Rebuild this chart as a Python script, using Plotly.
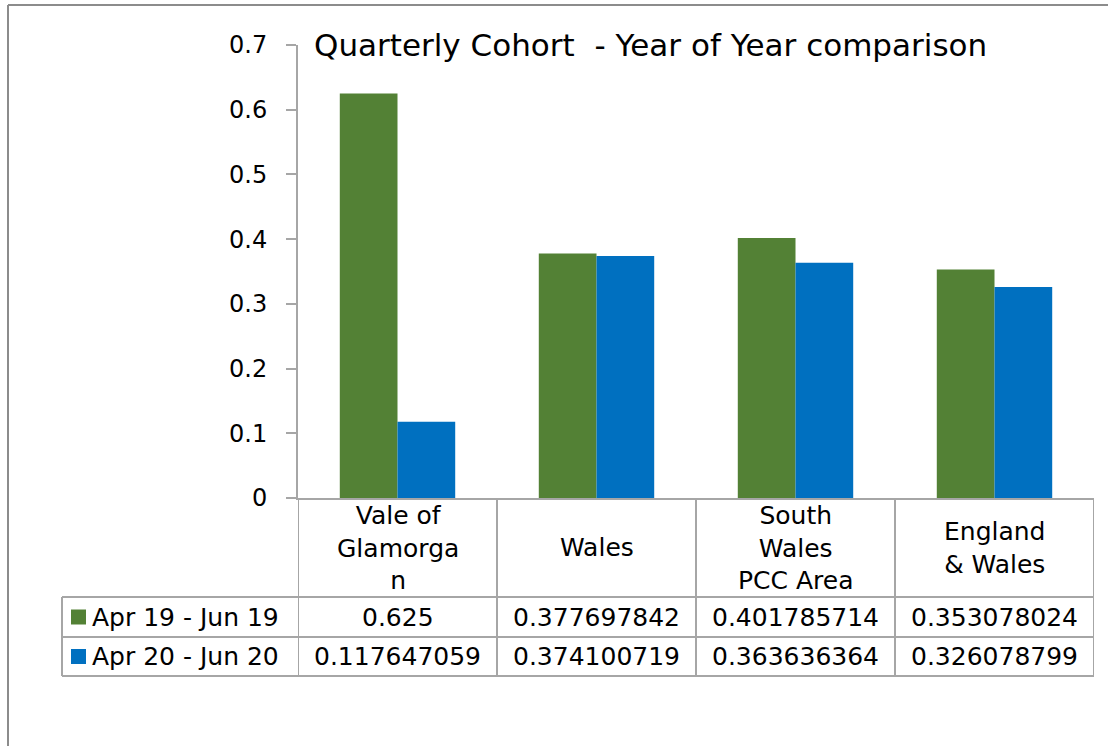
import plotly.graph_objects as go

# ---- data ----
categories = ["Vale of Glamorgan", "Wales", "South Wales PCC Area", "England & Wales"]
category_labels = ["Vale of<br>Glamorga<br>n", "Wales", "South<br>Wales<br>PCC Area", "England<br>& Wales"]
series_names = ["Apr 19 - Jun 19", "Apr 20 - Jun 20"]
apr19_jun19 = [0.625, 0.377697842, 0.401785714, 0.353078024]
apr20_jun20 = [0.117647059, 0.374100719, 0.363636364, 0.326078799]
y_ticks = [0, 0.1, 0.2, 0.3, 0.4, 0.5, 0.6, 0.7]
y_tick_labels = ["0", "0.1", "0.2", "0.3", "0.4", "0.5", "0.6", "0.7"]
title_text = "Quarterly Cohort  - Year of Year comparison"

# ---- styling ----
W, H = 1108, 746
FONT = "DejaVu Sans"
GREEN = "#538135"
BLUE = "#0070C0"
GRID = "#A6A6A6"
BORDER = "#8C8C8C"
TABLE_SIZE = 25

# pixel geometry of plot area and data table
PX_LEFT, PX_RIGHT = 298, 1094
PX_TOP, PX_ZERO = 45, 498
ROW_HEAD_BOTTOM, ROW1_BOTTOM, ROW2_BOTTOM = 597, 637, 676
LEGEND_LEFT = 62


def px(x):
    return x / W


def py(y):
    return 1 - y / H


fig = go.Figure()
fig.add_trace(go.Bar(x=list(range(len(categories))), y=apr19_jun19, name=series_names[0],
                     marker=dict(color=GREEN, line=dict(width=0))))
fig.add_trace(go.Bar(x=list(range(len(categories))), y=apr20_jun20, name=series_names[1],
                     marker=dict(color=BLUE, line=dict(width=0))))

shapes = []
annotations = []

# outer chart border (top and left)
shapes.append(dict(type="line", xref="paper", yref="paper", x0=px(8), x1=1, y0=py(5), y1=py(5),
                   line=dict(color=BORDER, width=2)))
shapes.append(dict(type="line", xref="paper", yref="paper", x0=px(8), x1=px(8), y0=py(5), y1=0,
                   line=dict(color=BORDER, width=2)))

# data table horizontal rules
for yy in (ROW_HEAD_BOTTOM, ROW1_BOTTOM, ROW2_BOTTOM):
    shapes.append(dict(type="line", xref="paper", yref="paper", x0=px(LEGEND_LEFT), x1=px(PX_RIGHT),
                       y0=py(yy), y1=py(yy), line=dict(color=GRID, width=2)))
# legend column left edge
shapes.append(dict(type="line", xref="paper", yref="paper", x0=px(LEGEND_LEFT), x1=px(LEGEND_LEFT),
                   y0=py(ROW_HEAD_BOTTOM), y1=py(ROW2_BOTTOM), line=dict(color=GRID, width=2)))
# column separators (category boundaries)
for i in range(len(categories) + 1):
    shapes.append(dict(type="line", xref="x", yref="paper", x0=i - 0.5, x1=i - 0.5,
                       y0=py(PX_ZERO), y1=py(ROW2_BOTTOM), line=dict(color=GRID, width=2)))

# header row: category names
for i, lab in enumerate(category_labels):
    annotations.append(dict(x=i, y=py((PX_ZERO + ROW_HEAD_BOTTOM) / 2), xref="x", yref="paper",
                            text=lab, showarrow=False, xanchor="center", yanchor="middle",
                            font=dict(family=FONT, size=TABLE_SIZE, color="#000000")))

# value rows with legend keys
rows = [(series_names[0], apr19_jun19, GREEN, ROW_HEAD_BOTTOM, ROW1_BOTTOM),
        (series_names[1], apr20_jun20, BLUE, ROW1_BOTTOM, ROW2_BOTTOM)]
for name, vals, col, top, bottom in rows:
    mid = (top + bottom) / 2
    shapes.append(dict(type="rect", xref="paper", yref="paper", x0=px(71), x1=px(86),
                       y0=py(mid - 7.5), y1=py(mid + 7.5), fillcolor=col, line=dict(width=0)))
    annotations.append(dict(x=px(90), y=py(mid), xref="paper", yref="paper", text=name,
                            showarrow=False, xanchor="left", yanchor="middle",
                            font=dict(family=FONT, size=TABLE_SIZE, color="#000000")))
    for i, v in enumerate(vals):
        annotations.append(dict(x=i, y=py(mid), xref="x", yref="paper", text=f"{v:.9g}",
                                showarrow=False, xanchor="center", yanchor="middle",
                                font=dict(family=FONT, size=TABLE_SIZE, color="#000000")))

# title inside the plot area
annotations.append(dict(x=px(312), y=py(45), xref="paper", yref="paper", text=title_text,
                        showarrow=False, xanchor="left", yanchor="middle",
                        font=dict(family=FONT, size=31, color="#000000")))

fig.update_layout(
    width=W, height=H, autosize=False,
    margin=dict(l=0, r=0, t=0, b=0, pad=0),
    paper_bgcolor="white", plot_bgcolor="white",
    barmode="group", bargap=0.42, bargroupgap=0,
    showlegend=False,
    shapes=shapes, annotations=annotations,
    xaxis=dict(domain=[px(PX_LEFT), px(PX_RIGHT)], range=[-0.5, len(categories) - 0.5],
               automargin=False,
               showticklabels=False, ticks="", showgrid=False, zeroline=False,
               showline=True, linecolor=GRID, linewidth=2),
    yaxis=dict(domain=[py(PX_ZERO), py(PX_TOP)], range=[0, 0.7], automargin=False,
               tickvals=y_ticks, ticktext=y_tick_labels,
               ticks="outside", ticklen=10, tickcolor=GRID, tickwidth=2,
               showgrid=False, zeroline=False, showline=True, linecolor=GRID, linewidth=2,
               ticklabelstandoff=14,
               tickfont=dict(family=FONT, size=24, color="#000000")),
)

fig.write_html("out.html")
